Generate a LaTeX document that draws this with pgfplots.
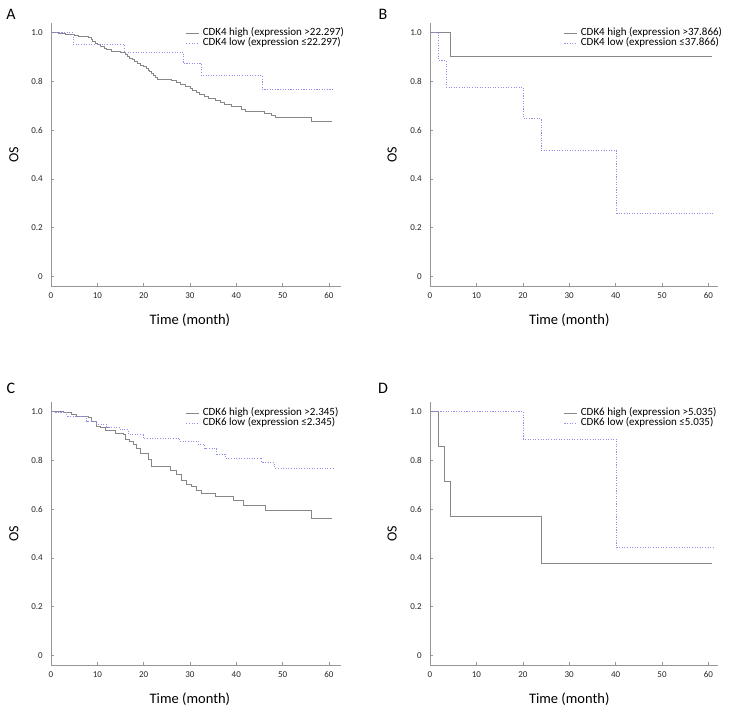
\documentclass[border=0pt]{standalone}
\usepackage{pgfplots}
\pgfplotsset{compat=1.18}
\usepackage{fontspec}
\setmainfont{Carlito}
\definecolor{axisgray}{RGB}{150,150,150}
\definecolor{kmgray}{RGB}{135,135,135}
\definecolor{kmblue}{RGB}{145,145,235}
\pgfplotsset{
  km/.style={
    scale only axis, height=263pt,
    ymin=-0.04, ymax=1.04, xmin=0,
    axis x line=bottom, axis y line=left,
    axis line style={-, draw=axisgray, line width=0.8pt},
    tick align=inside, major tick length=3pt,
    tick style={draw=axisgray, line width=0.6pt},
    xtick={0,10,20,30,40,50,60},
    ytick={0,0.2,0.4,0.6,0.8,1.0},
    yticklabels={0,0.2,0.4,0.6,0.8,1.0},
    /pgf/number format/assume math mode=true,
    xticklabel style={font=\fontsize{9}{10}\selectfont, text=black!85, inner sep=0pt, yshift=-6pt},
    yticklabel style={font=\fontsize{9}{10}\selectfont, text=black!85, inner sep=0pt, xshift=-8pt},
    xlabel={Time (month)}, ylabel={OS},
    xlabel style={font=\fontsize{14.5}{16}\selectfont, anchor=center},
    ylabel style={font=\fontsize{14}{16}\selectfont, anchor=center},
    legend cell align=left,
    legend image code/.code={\draw[##1] (0pt,0pt) -- (13pt,0pt);},
    legend style={draw=none, fill=none, inner sep=0pt, outer sep=0pt, column sep=3pt,
      font=\fontsize{11}{11}\selectfont, anchor=north west,
      nodes={inner sep=0pt, text height=7.5pt, text depth=2.5pt}},
  },
  kmA/.style={km, width=290pt, xmax=62.6,
    xlabel style={at={(axis description cs:0.479,-0.129)}},
    ylabel style={at={(axis description cs:-0.128,0.5)}}},
  kmB/.style={km, width=287.7pt, xmax=62,
    xlabel style={at={(axis description cs:0.484,-0.129)}},
    ylabel style={at={(axis description cs:-0.132,0.5)}}},
  hi/.style={const plot, draw=kmgray, line width=0.75pt, mark=none},
  lo/.style={const plot, draw=kmblue, line width=0.8pt, mark=none, dash pattern=on 1.1pt off 1.5pt},
}
\begin{document}
\begin{tikzpicture}[x=1pt,y=1pt]
\useasboundingbox (0,0) rectangle (735,716);
\node[font=\fontsize{16}{16}\selectfont] at (11,702) {A};
\node[font=\fontsize{16}{16}\selectfont] at (383,702) {B};
\node[font=\fontsize{16}{16}\selectfont] at (11,328) {C};
\node[font=\fontsize{16}{16}\selectfont] at (383,328) {D};

% Panel A
\begin{axis}[kmA, at={(51pt,430pt)}, anchor=south west,
  legend style={at={(axis description cs:0.4655,0.981)}}]
\addplot[hi] coordinates {(0,1.0) (1.5,0.997) (3,0.993) (5,0.989) (6,0.986) (8,0.979) (8.7,0.972) (9,0.965) (9.5,0.958) (10,0.951) (10.6,0.944) (11.5,0.937) (12,0.931) (13,0.924) (15,0.918) (16,0.910) (16.5,0.903) (17,0.896) (17.5,0.889) (18,0.882) (18.7,0.875) (19.3,0.868) (20,0.861) (20.6,0.854) (21,0.847) (21.3,0.840) (21.6,0.832) (22,0.824) (22.5,0.817) (23,0.810) (26,0.803) (27,0.795) (28,0.787) (29,0.779) (30,0.771) (30.5,0.763) (31.3,0.755) (32,0.746) (33,0.738) (34,0.730) (35.5,0.722) (36.5,0.713) (37.5,0.705) (39,0.696) (41,0.687) (42,0.678) (46,0.669) (47.5,0.660) (48.5,0.652) (56.3,0.638) (60.7,0.638)};
\addlegendentry{CDK4 high (expression >22.297)}
\addplot[lo] coordinates {(0,1.0) (4.8,0.952) (15.8,0.92) (28.6,0.873) (32.5,0.823) (45.6,0.766) (60.9,0.766)};
\addlegendentry{CDK4 low (expression ≤22.297)}
\end{axis}

% Panel B
\begin{axis}[kmB, at={(430pt,430pt)}, anchor=south west,
  legend style={at={(axis description cs:0.466,0.981)}}]
\addplot[hi] coordinates {(0,1.0) (4.3,0.901) (60.7,0.901)};
\addlegendentry{CDK4 high (expression >37.866)}
\addplot[lo] coordinates {(0,1.0) (1.8,0.887) (3.45,0.777) (20.1,0.648) (23.9,0.517) (40.2,0.259) (61.2,0.259)};
\addlegendentry{CDK4 low (expression ≤37.866)}
\end{axis}

% Panel C
\begin{axis}[kmA, at={(51pt,51pt)}, anchor=south west,
  legend style={at={(axis description cs:0.4655,0.976)}}]
\addplot[hi] coordinates {(0,1.0) (2.7,0.996) (4.5,0.99) (5.5,0.982) (8,0.975) (8.8,0.961) (9.9,0.94) (10.6,0.934) (11.7,0.923) (13.8,0.913) (15.6,0.906) (16,0.886) (17,0.879) (17.8,0.866) (18.5,0.851) (19.2,0.828) (21,0.803) (21.7,0.775) (25.7,0.761) (27,0.741) (28.2,0.72) (29.3,0.703) (30.4,0.692) (31.4,0.679) (32.5,0.665) (35.4,0.651) (39.4,0.638) (41.5,0.617) (46.3,0.593) (56.3,0.561) (60.7,0.561)};
\addlegendentry{CDK6 high (expression >2.345)}
\addplot[lo] coordinates {(0,1.0) (1,0.996) (3.4,0.982) (7.7,0.961) (9.9,0.948) (12,0.937) (14.9,0.927) (16.7,0.906) (19.9,0.892) (27.8,0.879) (31.8,0.866) (33.2,0.848) (35.8,0.826) (37.6,0.81) (45.5,0.79) (48.3,0.768) (60.9,0.768)};
\addlegendentry{CDK6 low (expression ≤2.345)}
\end{axis}

% Panel D
\begin{axis}[kmB, at={(430pt,51pt)}, anchor=south west,
  legend style={at={(axis description cs:0.466,0.976)}}]
\addplot[hi] coordinates {(0,1.0) (1.8,0.858) (3.2,0.713) (4.3,0.571) (23.9,0.379) (60.7,0.379)};
\addlegendentry{CDK6 high (expression >5.035)}
\addplot[lo] coordinates {(0,1.0) (20.1,0.888) (40.2,0.442) (61.2,0.442)};
\addlegendentry{CDK6 low (expression ≤5.035)}
\end{axis}
\end{tikzpicture}
\end{document}
